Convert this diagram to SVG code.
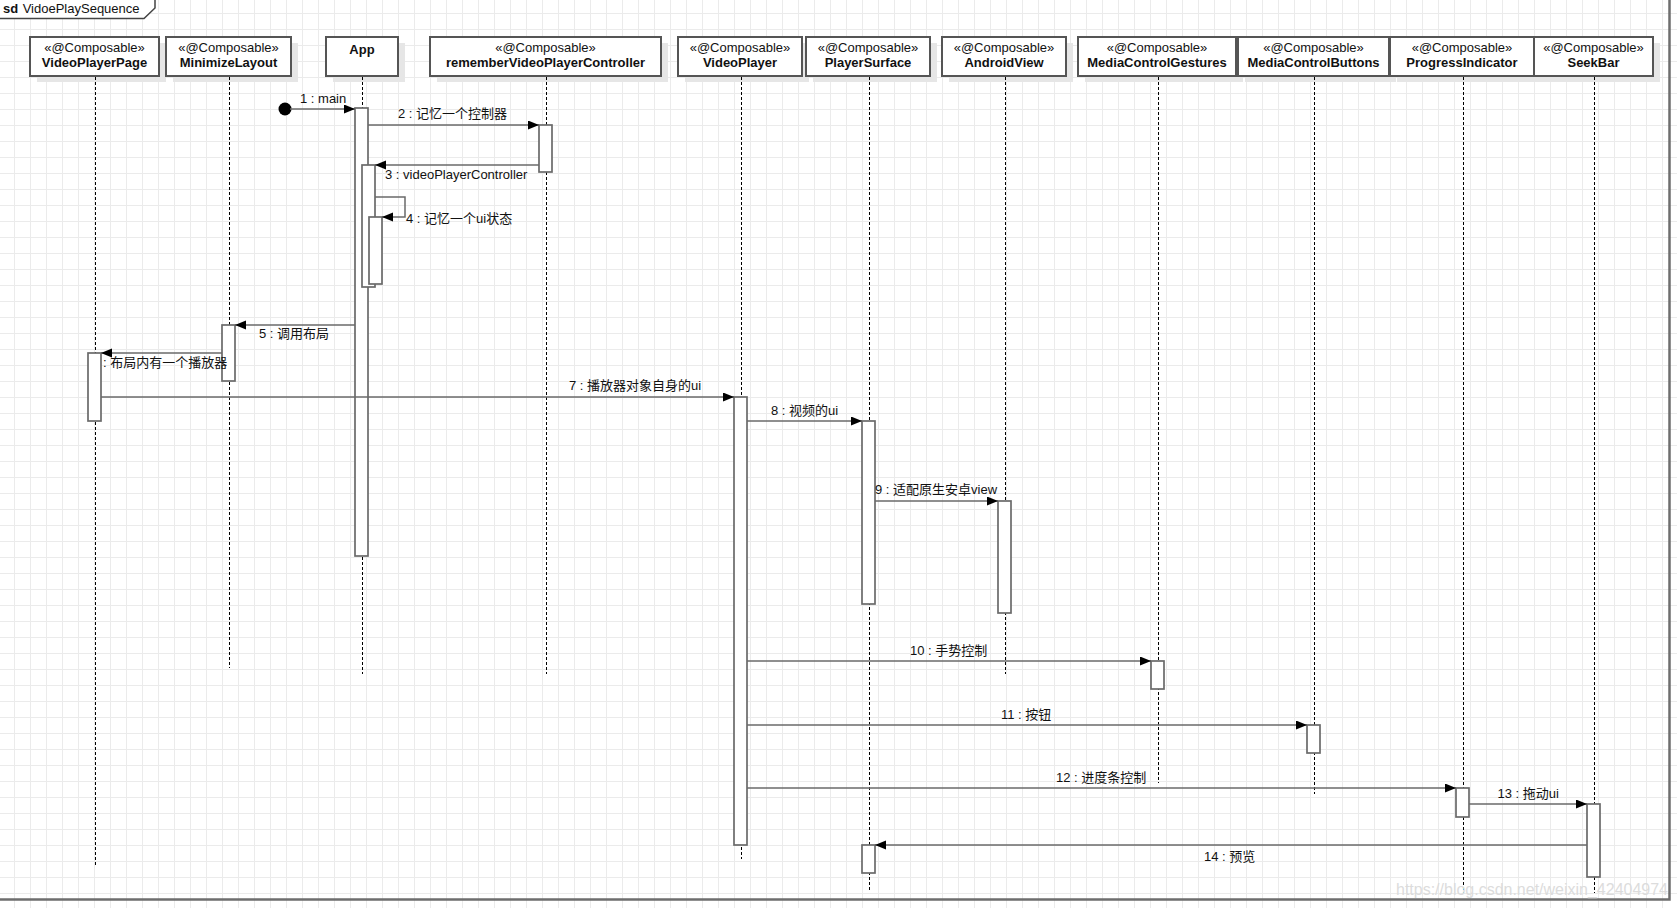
<svg xmlns="http://www.w3.org/2000/svg" width="1677" height="908" viewBox="0 0 1677 908">
<style>
.shd{fill:#e6e6e6}
.box{fill:#fff;stroke:#555;stroke-width:2}
.st,.nm{font-family:"Liberation Sans","Noto Sans CJK SC",sans-serif;font-size:13px;fill:#111;text-anchor:middle}
.nm{font-weight:bold}
.life{stroke:#000;stroke-width:1;stroke-dasharray:3 2;fill:none}
.act{fill:#fff;stroke:#6a6a6a;stroke-width:1.7}
.msg{stroke:#6a6a6a;stroke-width:1.5;fill:none;marker-end:url(#ah)}
.lbl{font-family:"Liberation Sans","Noto Sans CJK SC",sans-serif;font-size:13px;fill:#111}
</style>
<defs>
<pattern id="grid" width="16" height="16" patternUnits="userSpaceOnUse" x="14" y="13">
<path d="M0.5,0 V16 M0,0.5 H16" stroke="#ebebeb" stroke-width="1" fill="none"/>
</pattern>
<marker id="ah" markerUnits="userSpaceOnUse" markerWidth="12" markerHeight="10" refX="11" refY="4.5" orient="auto">
<path d="M0,0 L11,4.5 L0,9 Z" fill="#000"/>
</marker>
</defs>
<rect x="0" y="0" width="1677" height="908" fill="#fff"/>
<rect x="0" y="0" width="1677" height="908" fill="url(#grid)"/>
<g id="frame">
<path d="M1669.5,0 V899.5 H0" fill="none" stroke="#6e6e6e" stroke-width="2.5"/>
<path d="M0,0 H155 V8 L144,18.5 H0 Z" fill="#fff"/>
<path d="M0,18.5 H144 L155,8 V0" fill="none" stroke="#444" stroke-width="1.5"/>
<text x="3" y="12.5" style="font-family:'Liberation Sans',sans-serif;font-size:13px;font-weight:bold;fill:#111">sd</text>
<text x="22.7" y="12.5" style="font-family:'Liberation Sans',sans-serif;font-size:13px;fill:#111">VidoePlaySequence</text>
</g>
<g id="n-VideoPlayerPage">
<rect class="shd" x="37" y="43" width="129" height="39"/>
<rect class="box" x="30" y="37" width="129" height="39"/>
<text class="st" x="94.5" y="52">«@Composable»</text>
<text class="nm" x="94.5" y="66.5">VideoPlayerPage</text>
<line class="life" x1="95.5" y1="77" x2="95.5" y2="866"/>
<rect class="act" x="88" y="353" width="13" height="68"/>
</g>
<g id="n-MinimizeLayout">
<rect class="shd" x="173" y="43" width="125" height="39"/>
<rect class="box" x="166" y="37" width="125" height="39"/>
<text class="st" x="228.5" y="52">«@Composable»</text>
<text class="nm" x="228.5" y="66.5">MinimizeLayout</text>
<line class="life" x1="229.5" y1="77" x2="229.5" y2="668"/>
<rect class="act" x="222" y="325" width="13" height="56"/>
</g>
<g id="n-App">
<rect class="shd" x="333" y="43" width="72" height="39"/>
<rect class="box" x="326" y="37" width="72" height="39"/>
<text class="nm" x="362" y="54">App</text>
<line class="life" x1="362.5" y1="77" x2="362.5" y2="674"/>
<rect class="act" x="355" y="108" width="13" height="448"/>
<rect class="act" x="362" y="165" width="13" height="122"/>
<rect class="act" x="369" y="217" width="13" height="67"/>
</g>
<g id="n-rememberVideoPlayerController">
<rect class="shd" x="437" y="43" width="231" height="39"/>
<rect class="box" x="430" y="37" width="231" height="39"/>
<text class="st" x="545.5" y="52">«@Composable»</text>
<text class="nm" x="545.5" y="66.5">rememberVideoPlayerController</text>
<line class="life" x1="546.5" y1="77" x2="546.5" y2="674"/>
<rect class="act" x="539" y="125" width="13" height="47"/>
</g>
<g id="n-VideoPlayer">
<rect class="shd" x="685" y="43" width="124" height="39"/>
<rect class="box" x="678" y="37" width="124" height="39"/>
<text class="st" x="740" y="52">«@Composable»</text>
<text class="nm" x="740" y="66.5">VideoPlayer</text>
<line class="life" x1="741.5" y1="77" x2="741.5" y2="859"/>
<rect class="act" x="734" y="397" width="13" height="448"/>
</g>
<g id="n-PlayerSurface">
<rect class="shd" x="813" y="43" width="124" height="39"/>
<rect class="box" x="806" y="37" width="124" height="39"/>
<text class="st" x="868" y="52">«@Composable»</text>
<text class="nm" x="868" y="66.5">PlayerSurface</text>
<line class="life" x1="869.5" y1="77" x2="869.5" y2="890"/>
<rect class="act" x="862" y="421" width="13" height="183"/>
<rect class="act" x="862" y="845" width="13" height="28"/>
</g>
<g id="n-AndroidView">
<rect class="shd" x="949" y="43" width="124" height="39"/>
<rect class="box" x="942" y="37" width="124" height="39"/>
<text class="st" x="1004" y="52">«@Composable»</text>
<text class="nm" x="1004" y="66.5">AndroidView</text>
<line class="life" x1="1005.5" y1="77" x2="1005.5" y2="674"/>
<rect class="act" x="998" y="501" width="13" height="112"/>
</g>
<g id="n-MediaControlGestures">
<rect class="shd" x="1085" y="43" width="158" height="39"/>
<rect class="box" x="1078" y="37" width="158" height="39"/>
<text class="st" x="1157" y="52">«@Composable»</text>
<text class="nm" x="1157" y="66.5">MediaControlGestures</text>
<line class="life" x1="1158.5" y1="77" x2="1158.5" y2="783"/>
<rect class="act" x="1151" y="661" width="13" height="28"/>
</g>
<g id="n-MediaControlButtons">
<rect class="shd" x="1245" y="43" width="151" height="39"/>
<rect class="box" x="1238" y="37" width="151" height="39"/>
<text class="st" x="1313.5" y="52">«@Composable»</text>
<text class="nm" x="1313.5" y="66.5">MediaControlButtons</text>
<line class="life" x1="1314.5" y1="77" x2="1314.5" y2="794"/>
<rect class="act" x="1307" y="725" width="13" height="28"/>
</g>
<g id="n-ProgressIndicator">
<rect class="shd" x="1397" y="43" width="144" height="39"/>
<rect class="box" x="1390" y="37" width="144" height="39"/>
<text class="st" x="1462" y="52">«@Composable»</text>
<text class="nm" x="1462" y="66.5">ProgressIndicator</text>
<line class="life" x1="1463.5" y1="77" x2="1463.5" y2="893"/>
<rect class="act" x="1456" y="788" width="13" height="29"/>
</g>
<g id="n-SeekBar">
<rect class="shd" x="1541" y="43" width="119" height="39"/>
<rect class="box" x="1534" y="37" width="119" height="39"/>
<text class="st" x="1593.5" y="52">«@Composable»</text>
<text class="nm" x="1593.5" y="66.5">SeekBar</text>
<line class="life" x1="1594.5" y1="77" x2="1594.5" y2="893"/>
<rect class="act" x="1587" y="804" width="13" height="73"/>
</g>
<g id="connectors">
<circle cx="285" cy="109" r="6.5" fill="#000"/>
<path class="msg" d="M290,109 H355"/>
<text class="lbl" x="300" y="103">1 : main</text>
<path class="msg" d="M368,125 H539"/>
<text class="lbl" x="398" y="118">2 : 记忆一个控制器</text>
<path class="msg" d="M539,165 H375"/>
<text class="lbl" x="385" y="179">3 : videoPlayerController</text>
<path class="msg" d="M375,197 H405 V217 H382"/>
<text class="lbl" x="406" y="223">4 : 记忆一个ui状态</text>
<path class="msg" d="M355,325 H235"/>
<text class="lbl" x="259" y="338">5 : 调用布局</text>
<path class="msg" d="M222,353 H101"/>
<text class="lbl" x="103" y="367">: 布局内有一个播放器</text>
<path class="msg" d="M101,397 H734"/>
<text class="lbl" x="569" y="390">7 : 播放器对象自身的ui</text>
<path class="msg" d="M747,421 H862"/>
<text class="lbl" x="771" y="415">8 : 视频的ui</text>
<path class="msg" d="M875,501 H998"/>
<text class="lbl" x="875" y="494">9 : 适配原生安卓view</text>
<path class="msg" d="M747,661 H1151"/>
<text class="lbl" x="910" y="655">10 : 手势控制</text>
<path class="msg" d="M747,725 H1307"/>
<text class="lbl" x="1001" y="719">11 : 按钮</text>
<path class="msg" d="M747,788 H1456"/>
<text class="lbl" x="1056" y="782">12 : 进度条控制</text>
<path class="msg" d="M1469,804 H1587"/>
<text class="lbl" x="1497.5" y="798">13 : 拖动ui</text>
<path class="msg" d="M1587,845 H875"/>
<text class="lbl" x="1204" y="861">14 : 预览</text>
</g>
<text x="1396" y="895" textLength="272" lengthAdjust="spacingAndGlyphs" style="font-family:'Liberation Sans',sans-serif;font-size:16px;fill:#dcdcdc">https://blog.csdn.net/weixin_42404974</text>
</svg>
